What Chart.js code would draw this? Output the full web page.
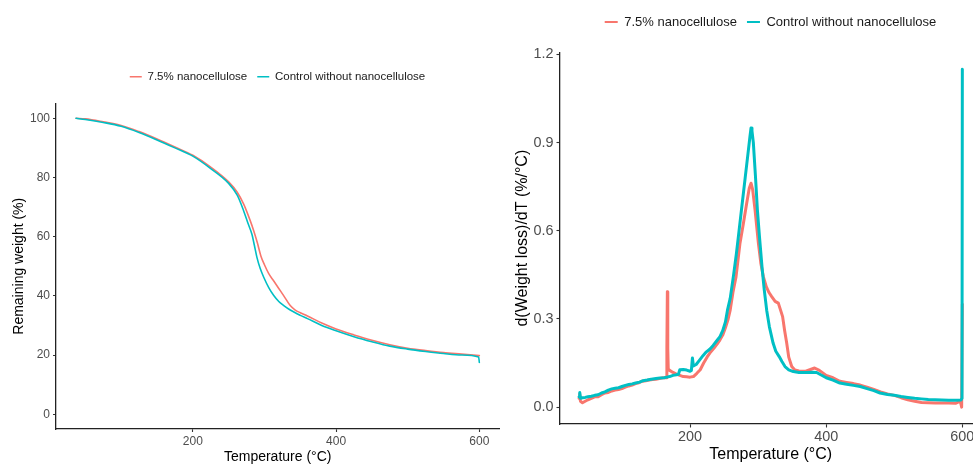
<!DOCTYPE html>
<html>
<head>
<meta charset="utf-8">
<script src="https://cdn.jsdelivr.net/npm/chart.js@4.4.0/dist/chart.umd.min.js"></script>
<style>
  html, body { margin:0; padding:0; background:#fff; overflow:hidden; width:973px; height:464px; }
  #left  { position:absolute; left:0;     top:0; width:555px; height:464px; }
  #right { position:absolute; left:500px; top:0; width:541px; height:464px; }
</style>
</head>
<body>
<div id="left"><canvas id="tgaChart"></canvas></div>
<div id="right"><canvas id="dtgChart"></canvas></div>
<script>
// ── DATA ─────────────────────────────────────────────────────────
const seriesNames = ['7.5% nanocellulose', 'Control without nanocellulose'];
const tempTicks   = [200, 400, 600];
const tgaYTicks   = [0, 20, 40, 60, 80, 100];
const dtgYTicks   = [0, 0.3, 0.6, 0.9, 1.2];

// TGA: remaining weight (%)
const tgaTempNano   = [37,50,75,100,125,150,175,200,225,250,262,271,280,285,290,295,300,306,313,320,327,336,343,350,360,380,400,425,450,475,500,525,550,575,600];
const tgaWeightNano = [100,99.8,98.8,97.6,95.5,93,90.3,87.5,83.5,78.5,75,71,65.5,62,58,53.5,50.5,47.5,45,42.5,40,36.7,35.2,34.3,33.2,30.8,28.8,26.8,25,23.5,22.3,21.5,20.8,20.3,19.8];
const tgaTempCtrl   = [37,50,75,100,125,150,175,200,225,250,262,271,277,282.5,286,289.5,294,299,306,313,320,327,336,350,360,380,400,425,450,475,500,525,550,575,599,600];
const tgaWeightCtrl = [100,99.6,98.6,97.3,95.2,92.7,90,87.2,83,78,74,68.7,64.5,60.8,57,53,49.3,46.3,42.8,40.1,38.1,36.7,35.2,33.4,32.3,30,28.2,26.2,24.5,23,22,21.2,20.5,20,19.3,17.5];

// DTG: d(weight loss)/dT (%/°C)
const dtgTempNano = [37,38,39,42,46,50,55,60,65,70,75,80,85,90,95,100,105,110,115,120,125,130,135,140,145,150,155,160,165,166,166.7,167.3,168,170,175,180,185,190,195,200,205,210,215,220,225,230,235,240,244,248,252,256,259,263,267.6,273.4,278,283,287,289.6,292,295.5,300.4,304,307.7,312,316,320,325,329.7,333,336,339,342,345,349.4,354,360,370,377,383,390,400,410,420,430,440,450,460,470,480,490,500,510,520,530,540,550,560,570,580,590,597,599,600];
const dtgRateNano = [0.03,0.045,0.02,0.015,0.02,0.025,0.03,0.035,0.035,0.042,0.048,0.05,0.055,0.058,0.06,0.063,0.068,0.072,0.075,0.08,0.083,0.088,0.09,0.092,0.094,0.095,0.097,0.1,0.1,0.2,0.393,0.2,0.13,0.125,0.118,0.112,0.108,0.104,0.103,0.102,0.104,0.115,0.127,0.15,0.17,0.187,0.2,0.215,0.229,0.245,0.27,0.3,0.33,0.39,0.444,0.558,0.62,0.69,0.745,0.762,0.74,0.671,0.558,0.49,0.444,0.41,0.39,0.376,0.36,0.354,0.33,0.308,0.26,0.218,0.17,0.138,0.126,0.123,0.122,0.128,0.133,0.125,0.108,0.1,0.088,0.084,0.08,0.075,0.068,0.06,0.052,0.045,0.04,0.032,0.025,0.02,0.016,0.015,0.014,0.014,0.014,0.013,0.02,0.0,0.35];
const dtgTempCtrl = [37,38,39,42,46,50,55,60,65,70,75,80,85,90,95,100,105,110,115,120,126,131,137,143,150,156,162,166,170,175,180,183,185,190,195,200,202,203.5,205,209,214,219,224,229,234,239,244,248,252,255,259,264,268,272,276,281,285,288,289.6,291,293,296,299,302,306,309,312.6,316.5,322,326,331,335,339.5,345,351.7,360,370,380,386,392,400,410,420,430,440,450,460,470,479,490,500,510,520,530,540,550,560,570,580,590,598,599.5,600];
const dtgRateCtrl = [0.035,0.05,0.03,0.032,0.033,0.035,0.037,0.04,0.042,0.048,0.052,0.058,0.062,0.064,0.066,0.07,0.074,0.077,0.079,0.082,0.085,0.09,0.092,0.095,0.097,0.099,0.1,0.102,0.104,0.108,0.11,0.112,0.127,0.128,0.126,0.122,0.125,0.167,0.14,0.145,0.16,0.175,0.188,0.197,0.21,0.225,0.24,0.26,0.29,0.33,0.37,0.45,0.52,0.6,0.68,0.78,0.86,0.92,0.95,0.94,0.9,0.79,0.67,0.58,0.47,0.4,0.33,0.274,0.218,0.19,0.172,0.155,0.138,0.127,0.121,0.118,0.118,0.119,0.118,0.11,0.1,0.092,0.082,0.078,0.074,0.07,0.063,0.056,0.048,0.043,0.04,0.036,0.033,0.03,0.028,0.026,0.025,0.024,0.023,0.023,0.024,0.03,1.15];

// ── STYLE ────────────────────────────────────────────────────────
const RED = '#F8766D', CYAN = '#00BFC4';
const FONT = '"Liberation Sans", Arial, Helvetica, sans-serif';
const pts = (xs, ys) => xs.map((x, i) => ({ x, y: ys[i] }));

function makeChart(id, o) {
  const datasets = [
    { label: seriesNames[0], data: pts(o.tx[0], o.ty[0]), borderColor: RED,  order: 1 },
    { label: seriesNames[1], data: pts(o.tx[1], o.ty[1]), borderColor: CYAN, order: 0 }
  ].map(d => Object.assign(d, {
    xAxisID: 'x', yAxisID: 'y', borderWidth: o.lw, pointRadius: 0, fill: false,
    borderJoinStyle: 'round', borderCapStyle: 'round',
    tension: o.smooth ? 0.4 : 0, cubicInterpolationMode: o.smooth ? 'monotone' : 'default'
  }));

  return new Chart(document.getElementById(id), {
    type: 'line',
    data: { datasets },
    options: {
      responsive: true, maintainAspectRatio: false, animation: false,
      layout: { padding: { top: o.padTop, left: 0, right: 0, bottom: 0 } },
      plugins: {
        tooltip: { enabled: false },
        legend: {
          position: 'top', align: 'center',
          labels: {
            usePointStyle: true, pointStyle: 'line', pointStyleWidth: o.keyW,
            padding: 10, color: '#1a1a1a', font: { family: FONT, size: o.legFs },
            sort: (a, b) => a.datasetIndex - b.datasetIndex,
            generateLabels: ch => Chart.defaults.plugins.legend.labels.generateLabels(ch)
              .map(l => Object.assign(l, { lineWidth: o.keyLw, pointStyle: 'line' }))
          }
        }
      },
      scales: {
        x: {
          type: 'linear', position: 'bottom', min: 9, max: 628,
          afterBuildTicks: s => { s.ticks = tempTicks.map(v => ({ value: v })); },
          afterFit: s => { s.height = o.xH; },
          grid: { display: true, drawOnChartArea: false, drawTicks: true, tickLength: o.tl, tickWidth: 1.1, tickColor: '#333' },
          border: { display: true, color: '#222', width: 1.3 },
          ticks: { color: '#4D4D4D', font: { family: FONT, size: o.tickFs }, padding: o.xPad, maxRotation: 0, autoSkip: false },
          title: { display: true, text: 'Temperature (°C)', color: '#000', font: { family: FONT, size: o.titleFs, lineHeight: 1 }, padding: { top: 0, bottom: o.xTitlePad } }
        },
        y: {
          type: 'linear', position: 'left', min: o.yMin, max: o.yMax,
          afterBuildTicks: s => { s.ticks = o.yTicks.map(v => ({ value: v })); },
          afterFit: s => { s.width = o.yW; },
          grid: { display: true, drawOnChartArea: false, drawTicks: true, tickLength: o.tl, tickWidth: 1.1, tickColor: '#333' },
          border: { display: true, color: '#222', width: 1.3 },
          ticks: { color: '#4D4D4D', font: { family: FONT, size: o.tickFs }, padding: o.yPad, callback: o.fmt },
          title: { display: true, text: o.yTitle, color: '#000', font: { family: FONT, size: o.titleFs, lineHeight: 1 }, padding: { top: o.yTitlePad, bottom: 0 } }
        },
        // spacer axes so the plot panel sits where the legend is centred
        xTop: {
          type: 'linear', position: 'top', display: true,
          afterFit: s => { s.height = o.gapTop; },
          grid: { display: false }, border: { display: false }, ticks: { display: false }
        },
        yRight: {
          type: 'linear', position: 'right', display: true,
          afterFit: s => { s.width = o.gapRight; },
          grid: { display: false }, border: { display: false }, ticks: { display: false }
        }
      }
    }
  });
}

// Left: TGA
makeChart('tgaChart', {
  tx: [tgaTempNano, tgaTempCtrl], ty: [tgaWeightNano, tgaWeightCtrl],
  lw: 1.6, smooth: true, keyW: 12, keyLw: 1.6, legFs: 11.5,
  padTop: 61, gapTop: 11, gapRight: 55.6,
  xH: 35, yW: 56, tl: 3, xPad: 2, yPad: 3,
  tickFs: 12, titleFs: 14, xTitlePad: 0, yTitlePad: 12,
  yMin: -5, yMax: 105, yTicks: tgaYTicks, fmt: v => String(v),
  yTitle: 'Remaining weight (%)'
});

// Right: DTG
makeChart('dtgChart', {
  tx: [dtgTempNano, dtgTempCtrl], ty: [dtgRateNano, dtgRateCtrl],
  lw: 3, smooth: false, keyW: 13, keyLw: 2, legFs: 13,
  padTop: 5.5, gapTop: 13.8, gapRight: 59.6,
  xH: 40, yW: 60, tl: 3.5, xPad: 1, yPad: 3,
  tickFs: 14.4, titleFs: 16, xTitlePad: 1, yTitlePad: 15,
  yMin: -0.0575, yMax: 1.2075, yTicks: dtgYTicks, fmt: v => v.toFixed(1),
  yTitle: 'd(Weight loss)/dT (%/°C)'
});
</script>
</body>
</html>
